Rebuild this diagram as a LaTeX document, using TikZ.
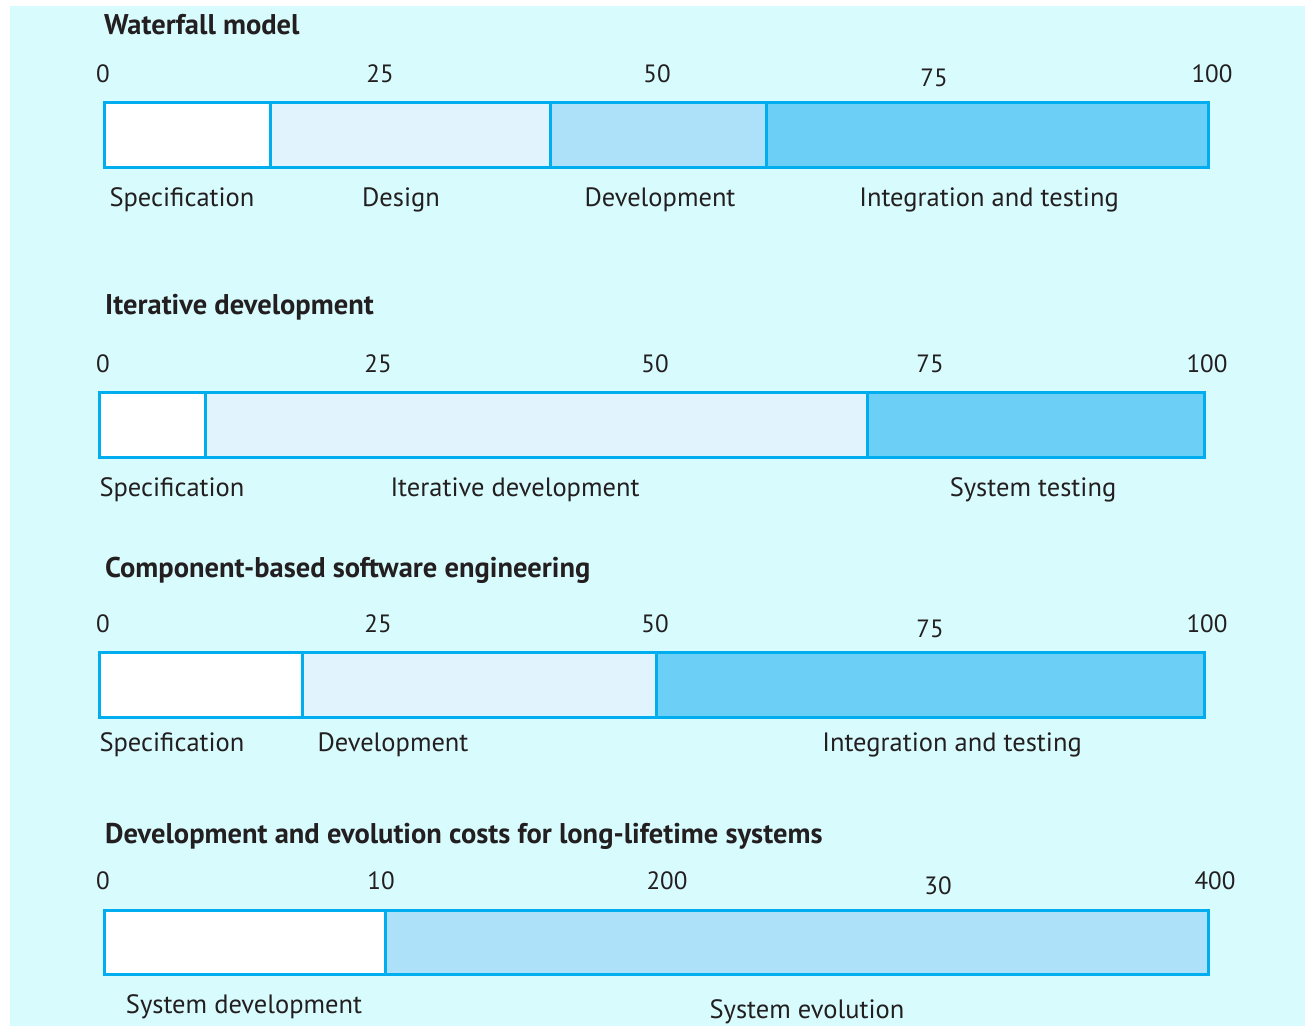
\documentclass[tikz,border=0pt]{standalone}
\usepackage{fontspec}
\setmainfont{PT Sans}
\definecolor{bgc}{HTML}{D8FBFD}
\definecolor{edge}{HTML}{00AEEF}
\definecolor{fillA}{HTML}{E1F3FC}
\definecolor{fillB}{HTML}{ADE1FA}
\definecolor{fillC}{HTML}{6CCFF6}
\definecolor{ink}{HTML}{231F20}
\begin{document}
\begin{tikzpicture}[x=1pt,y=-1pt,
  seg/.style={draw=edge, line width=3pt, inner sep=0pt, outer sep=0pt, minimum height=65pt, anchor=west},
  num/.style={anchor=base, inner sep=0pt, text=ink, font=\fontsize{25}{28}\selectfont},
  lbl/.style={anchor=base, inner sep=0pt, text=ink, font=\fontsize{26.5}{30}\selectfont},
  ttl/.style={anchor=base west, inner sep=0pt, text=ink, font=\fontsize{28.5}{32}\selectfont\bfseries}]
\useasboundingbox (0,0) rectangle (1305,1026);
\fill[white] (0,0) rectangle (1305,1026);
\fill[bgc] (10,6) rectangle (1305,1026);

% Waterfall model
\node[ttl] (t1) at (104,34) {Waterfall model};
\node[num] (w0) at (103,82) {0};
\node[num] (w25) at (380,82) {25};
\node[num] (w50) at (657,82) {50};
\node[num] (w75) at (934,86) {75};
\node[num] (w100) at (1212,82) {100};
\node[seg, fill=white, minimum width=166pt] (ws1) at (104,134.5) {};
\node[seg, fill=fillA, minimum width=280pt] (ws2) at (270,134.5) {};
\node[seg, fill=fillB, minimum width=216pt] (ws3) at (550,134.5) {};
\node[seg, fill=fillC, minimum width=442pt] (ws4) at (766,134.5) {};
\node[lbl] (wl1) at (182,206) {Specification};
\node[lbl] (wl2) at (401,206) {Design};
\node[lbl] (wl3) at (660,206) {Development};
\node[lbl] (wl4) at (989,206) {Integration and testing};

% Iterative development
\node[ttl] (t2) at (105,314) {Iterative development};
\node[num] (i0) at (103,372) {0};
\node[num] (i25) at (378,372) {25};
\node[num] (i50) at (655,372) {50};
\node[num] (i75) at (930,372) {75};
\node[num] (i100) at (1207,372) {100};
\node[seg, fill=white, minimum width=106pt] (is1) at (99,424.5) {};
\node[seg, fill=fillA, minimum width=662pt] (is2) at (205,424.5) {};
\node[seg, fill=fillC, minimum width=337pt] (is3) at (867,424.5) {};
\node[lbl] (il1) at (172,496) {Specification};
\node[lbl] (il2) at (515,496) {Iterative development};
\node[lbl] (il3) at (1033,496) {System testing};

% Component-based software engineering
\node[ttl] (t3) at (105,577) {Component-based software engineering};
\node[num] (c0) at (103,632) {0};
\node[num] (c25) at (378,632) {25};
\node[num] (c50) at (655,632) {50};
\node[num] (c75) at (930,637) {75};
\node[num] (c100) at (1207,632) {100};
\node[seg, fill=white, minimum width=203pt] (cs1) at (99,684.5) {};
\node[seg, fill=fillA, minimum width=354pt] (cs2) at (302,684.5) {};
\node[seg, fill=fillC, minimum width=548pt] (cs3) at (656,684.5) {};
\node[lbl] (cl1) at (172,751) {Specification};
\node[lbl] (cl2) at (393,751) {Development};
\node[lbl] (cl3) at (952,751) {Integration and testing};

% Development and evolution costs
\node[ttl] (t4) at (105,843) {Development and evolution costs for long-lifetime systems};
\node[num] (l0) at (103,889) {0};
\node[num] (l10) at (381,889) {10};
\node[num] (l200) at (667,889) {200};
\node[num] (l30) at (938,894) {30};
\node[num] (l400) at (1215,889) {400};
\node[seg, fill=white, minimum width=281pt, minimum height=64pt] (ls1) at (104,942) {};
\node[seg, fill=fillB, minimum width=823pt, minimum height=64pt] (ls2) at (385,942) {};
\node[lbl] (ll1) at (244,1013) {System development};
\node[lbl] (ll2) at (807,1018) {System evolution};
\end{tikzpicture}
\end{document}
